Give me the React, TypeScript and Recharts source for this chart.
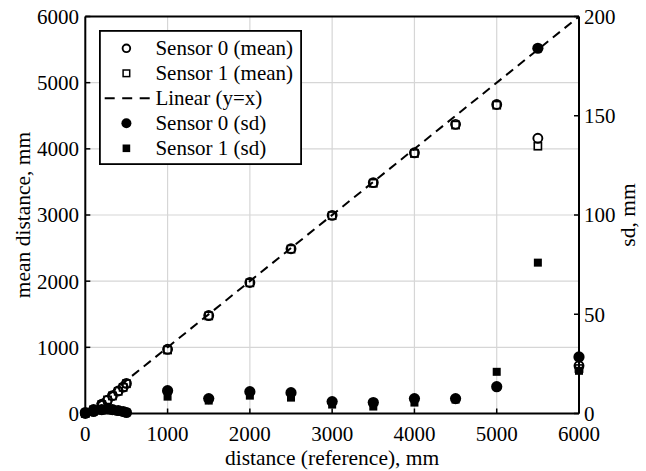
import React from 'react';
import {
  ComposedChart,
  Scatter,
  Line,
  XAxis,
  YAxis,
  CartesianGrid,
  ReferenceLine,
  Legend,
} from 'recharts';

// reference distances, mm
const distances = [0, 100, 200, 270, 330, 400, 460, 500, 1000, 1500, 2000, 2500, 3000, 3500, 4000, 4500, 5000, 5500, 6000];
// mean measured distance, mm
const sensor0Mean = [0, 60, 140, 200, 270, 340, 400, 455, 970, 1480, 1980, 2490, 2995, 3490, 3940, 4370, 4670, 4160, 720];
const sensor1Mean = [0, 55, 135, 205, 265, 335, 395, 450, 960, 1475, 1975, 2485, 2990, 3480, 3930, 4360, 4660, 4040, 680];
// standard deviation, mm
const sensor0Sd = [0.5, 1, 2, 2.5, 2, 1.5, 1, 0.5, 11.5, 7.5, 11, 10.5, 6, 5.5, 7.5, 7.5, 13.5, 184, 28.5];
const sensor1Sd = [0.3, 0.8, 1.5, 2, 1.5, 1, 1, 0.5, 8.5, 6.5, 9, 8, 4.5, 3.5, 5.5, 7, 21, 76, 21.5];
// linear reference y = x
const linearX = [0, 6000];

const xTicks = [0, 1000, 2000, 3000, 4000, 5000, 6000];
const leftTicks = [0, 1000, 2000, 3000, 4000, 5000, 6000];
const rightTicks = [0, 50, 100, 150, 200];

const legendLabels = ['Sensor 0 (mean)', 'Sensor 1 (mean)', 'Linear (y=x)', 'Sensor 0 (sd)', 'Sensor 1 (sd)'];

const toPoints = (ys: number[]) => distances.map((x, i) => ({ x, y: ys[i] }));
const mean0Data = toPoints(sensor0Mean);
const mean1Data = toPoints(sensor1Mean);
const sd0Data = toPoints(sensor0Sd);
const sd1Data = toPoints(sensor1Sd);
const linearData = linearX.map((x) => ({ x, y: x }));

const FONT = "'Liberation Serif', serif";
const tickStyle = { fill: '#000', fontSize: 21, fontFamily: FONT };
const labelStyle = { fill: '#000', fontSize: 21.5, fontFamily: FONT, textAnchor: 'middle' as const };

const OpenCircle = (p: any) => (
  <circle cx={p.cx} cy={p.cy} r={4.5} fill="none" stroke="#000" strokeWidth={1.9} />
);
const OpenSquare = (p: any) => (
  <rect x={p.cx - 3.6} y={p.cy - 3.6} width={7.2} height={7.2} fill="none" stroke="#000" strokeWidth={1.6} />
);
const FilledCircle = (p: any) => <circle cx={p.cx} cy={p.cy} r={5.6} fill="#000" />;
const FilledSquare = (p: any) => (
  <rect x={p.cx - 4} y={p.cy - 4} width={8} height={8} fill="#000" />
);

const LegendBox = () => {
  const rowY = [18.3, 43.3, 68.3, 93.3, 118.3];
  const sx = 27.4;
  return (
    <svg width={203} height={135} style={{ display: 'block' }}>
      <rect x={0.9} y={0.9} width={201.2} height={133.2} fill="#fff" stroke="#000" strokeWidth={1.8} />
      <circle cx={sx} cy={rowY[0]} r={3.8} fill="none" stroke="#000" strokeWidth={1.9} />
      <rect x={sx - 3.3} y={rowY[1] - 3.3} width={6.6} height={6.6} fill="none" stroke="#000" strokeWidth={1.5} />
      <line x1={5.7} y1={rowY[2]} x2={50.7} y2={rowY[2]} stroke="#000" strokeWidth={2} strokeDasharray="10 7.5" />
      <circle cx={sx} cy={rowY[3]} r={5} fill="#000" />
      <rect x={sx - 3.8} y={rowY[4] - 3.8} width={7.6} height={7.6} fill="#000" />
      {legendLabels.map((t, i) => (
        <text key={t} x={56.4} y={rowY[i] + 7} style={{ fontSize: 21, fontFamily: FONT, fill: '#000' }}>
          {t}
        </text>
      ))}
    </svg>
  );
};

export default function App() {
  return (
    <div style={{ position: 'absolute', left: 0, top: 0, width: 646, height: 471 }}>
      <ComposedChart
        width={646}
        height={471}
        margin={{ top: 16.5, right: 12, bottom: 2.5, left: 15.3 }}
        style={{ background: '#fff', fontFamily: FONT }}
      >
        <CartesianGrid xAxisId="x" yAxisId="left" stroke="#d6d6d6" strokeWidth={1.2} />
        <XAxis
          xAxisId="x"
          dataKey="x"
          type="number"
          domain={[0, 6000]}
          ticks={xTicks}
          interval={0}
          height={55}
          tick={tickStyle}
          tickSize={-5}
          tickMargin={18}
          tickLine={{ stroke: '#000', strokeWidth: 1.5 }}
          axisLine={{ stroke: '#000', strokeWidth: 2 }}
          label={{ value: 'distance (reference), mm', position: 'insideBottom', offset: 3.5, style: labelStyle }}
        />
        <YAxis
          yAxisId="left"
          dataKey="y"
          type="number"
          domain={[0, 6000]}
          ticks={leftTicks}
          interval={0}
          width={70}
          tick={tickStyle}
          tickSize={-5}
          tickMargin={11.3}
          tickLine={{ stroke: '#000', strokeWidth: 1.5 }}
          axisLine={{ stroke: '#000', strokeWidth: 2 }}
          label={{ value: 'mean distance, mm', angle: -90, position: 'insideLeft', offset: 7.2, style: labelStyle }}
        />
        <YAxis
          yAxisId="right"
          orientation="right"
          dataKey="y"
          type="number"
          domain={[0, 200]}
          ticks={rightTicks}
          interval={0}
          width={55}
          tick={tickStyle}
          tickSize={-5}
          tickMargin={10}
          tickLine={{ stroke: '#000', strokeWidth: 1.5 }}
          axisLine={{ stroke: '#000', strokeWidth: 2 }}
          label={{ value: 'sd, mm', angle: -90, position: 'insideRight', offset: 7, style: labelStyle }}
        />
        <ReferenceLine xAxisId="x" yAxisId="left" y={6000} stroke="#000" strokeWidth={2} />
        <Scatter
          name="Sensor 0 (mean)"
          data={mean0Data}
          dataKey="y"
          xAxisId="x"
          yAxisId="left"
          shape={OpenCircle}
          isAnimationActive={false}
        />
        <Scatter
          name="Sensor 1 (mean)"
          data={mean1Data}
          dataKey="y"
          xAxisId="x"
          yAxisId="left"
          shape={OpenSquare}
          isAnimationActive={false}
        />
        <Line
          name="Linear (y=x)"
          data={linearData}
          dataKey="y"
          xAxisId="x"
          yAxisId="left"
          stroke="#000"
          strokeWidth={2}
          strokeDasharray="9 6"
          dot={false}
          activeDot={false}
          isAnimationActive={false}
        />
        <Scatter
          name="Sensor 0 (sd)"
          data={sd0Data}
          dataKey="y"
          xAxisId="x"
          yAxisId="right"
          shape={FilledCircle}
          isAnimationActive={false}
        />
        <Scatter
          name="Sensor 1 (sd)"
          data={sd1Data}
          dataKey="y"
          xAxisId="x"
          yAxisId="right"
          shape={FilledSquare}
          isAnimationActive={false}
        />
        <Legend
          verticalAlign="middle"
          align="center"
          layout="horizontal"
          wrapperStyle={{ position: 'absolute', left: 99, top: 30, width: 203, height: 135 }}
          content={() => <LegendBox />}
        />
      </ComposedChart>
    </div>
  );
}
